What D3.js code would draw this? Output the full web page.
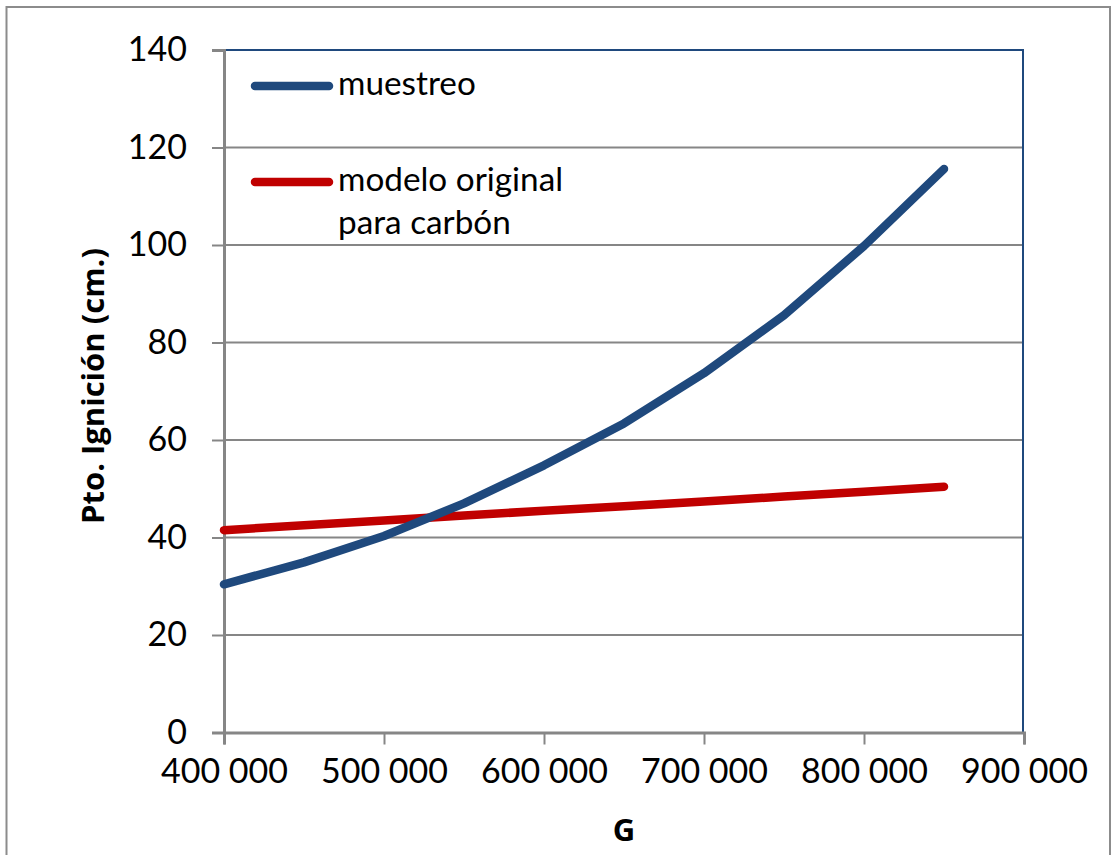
<!DOCTYPE html>
<html><head><meta charset="utf-8">
<script src="https://cdn.jsdelivr.net/npm/d3@7"></script>
<style>
html,body{margin:0;padding:0;background:#fff;}
svg{display:block;font-family:Lato,"Open Sans",sans-serif;}
</style></head>
<body>
<svg id="chart" width="1111" height="855"></svg>
<script>
const gValues = [400000,450000,500000,550000,600000,650000,700000,750000,800000,850000];
const muestreo = [30.4,34.9,40.3,47.0,54.8,63.4,73.7,85.6,99.8,115.6];
const modeloOriginal = [41.5,42.5,43.5,44.5,45.5,46.4,47.4,48.4,49.4,50.4];
const xTicks = [400000,500000,600000,700000,800000,900000];
const yTicks = [0,20,40,60,80,100,120,140];
const seriesNames = ["muestreo","modelo original|para carbón"];
const xTitle = "G";
const yTitle = "Pto. Ignición (cm.)";

const svg = d3.select("#chart");
const L=224, R=1024, T=50, B=732.5;
const x = d3.scaleLinear().domain([400000,900000]).range([L,R]);
const y = d3.scaleLinear().domain([0,140]).range([B,T]);
const grey="#868686", blue="#1F497D", red="#C00000";

// outer frame
svg.append("rect").attr("x",6.5).attr("y",7).attr("width",1103.5).attr("height",860)
  .attr("fill","none").attr("stroke","#8c8c8c").attr("stroke-width",2);

// gridlines
svg.append("g").selectAll("line").data(yTicks.filter(d=>d>0 && d<140)).join("line")
  .attr("x1",L).attr("x2",R).attr("y1",d=>y(d)).attr("y2",d=>y(d))
  .attr("stroke",grey).attr("stroke-width",2);

// plot border top/right (blue)
svg.append("path").attr("d",`M${L},${T}H${R-1}V${B}`).attr("fill","none")
  .attr("stroke",blue).attr("stroke-width",2);

// y axis
const yAxis = d3.axisLeft(y).tickValues(yTicks).tickSize(12).tickPadding(25).tickFormat(d3.format("d"));
const gy = svg.append("g").attr("transform",`translate(${L},0)`).call(yAxis);
gy.select(".domain").attr("stroke",grey).attr("stroke-width",3);
gy.selectAll(".tick line").attr("stroke",grey).attr("stroke-width",2);
gy.selectAll(".tick text").attr("font-size",34).attr("fill","#000").attr("font-family","Lato");

// x axis
const fmt = d => d3.format(",")(d).replace(/,/g," ");
const xAxis = d3.axisBottom(x).tickValues(xTicks).tickSize(12).tickPadding(14).tickFormat(fmt);
const gx = svg.append("g").attr("transform",`translate(0,${B})`).call(xAxis);
gx.select(".domain").attr("stroke",grey).attr("stroke-width",3);
gx.selectAll(".tick line").attr("stroke",grey).attr("stroke-width",2);
gx.selectAll(".tick text").attr("font-size",34).attr("fill","#000").attr("font-family","Lato");

// lines
const line = d3.line().x(d=>x(d[0])).y(d=>y(d[1]));
svg.append("path").datum(gValues.map((g,i)=>[g,modeloOriginal[i]])).attr("d",line)
  .attr("fill","none").attr("stroke",red).attr("stroke-width",8.5).attr("stroke-linecap","round").attr("stroke-linejoin","round");
svg.append("path").datum(gValues.map((g,i)=>[g,muestreo[i]])).attr("d",line)
  .attr("fill","none").attr("stroke",blue).attr("stroke-width",8.5).attr("stroke-linecap","round").attr("stroke-linejoin","round");

// legend
const leg = [{c:blue,y:86,lines:seriesNames[0].split("|"),base:95},{c:red,y:182,lines:seriesNames[1].split("|"),base:191}];
leg.forEach(l=>{
  svg.append("line").attr("x1",255).attr("x2",329).attr("y1",l.y).attr("y2",l.y)
    .attr("stroke",l.c).attr("stroke-width",8.5).attr("stroke-linecap","round");
  l.lines.forEach((t,i)=>{
    svg.append("text").attr("x",338).attr("y",l.base+i*43).attr("font-size",33.3).attr("fill","#000").text(t);
  });
});

// axis titles
svg.append("text").attr("x",(L+R)/2).attr("y",841).attr("text-anchor","middle")
  .attr("font-family","'Open Sans'").attr("font-size",31).attr("font-weight","bold").text(xTitle);
svg.append("text").attr("transform",`translate(104,386) rotate(-90)`).attr("text-anchor","middle")
  .attr("font-family","'Open Sans'").attr("font-size",31).attr("font-weight","bold").text(yTitle);
</script>
</body></html>
